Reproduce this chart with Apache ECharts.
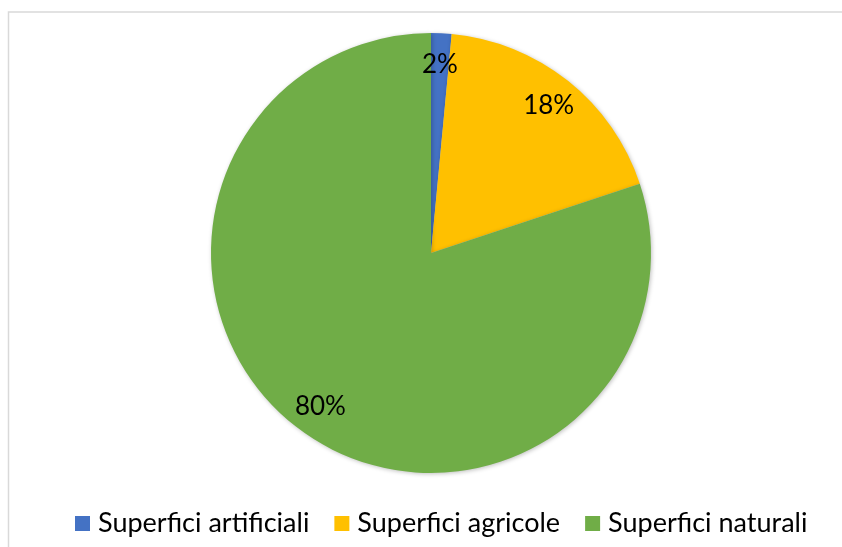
<!DOCTYPE html>
<html>
<head>
<meta charset="utf-8">
<script src="https://cdn.jsdelivr.net/npm/echarts@6/dist/echarts.min.js"></script>
<style>html,body{margin:0;padding:0;background:#fff}#c{width:842px;height:547px}</style>
</head>
<body>
<div id="c"></div>
<script>
const categories = ['Superfici artificiali', 'Superfici agricole', 'Superfici naturali'];
const values = [1.5, 18.4, 80.1];
const colors = ['#4472C4', '#FFC000', '#70AD47'];

const chart = echarts.init(document.getElementById('c'));
const data = categories.map((n, i) => ({ name: n, value: values[i], itemStyle: { color: colors[i] } }));
const font = 'Lato, "Open Sans", sans-serif';
chart.setOption({
  animation: false,
  graphic: [{
    type: 'rect', shape: { x: 8.5, y: 12, width: 900, height: 600 },
    style: { fill: 'none', stroke: '#d9d9d9', lineWidth: 1.5 }, silent: true
  }],
  legend: {
    data: categories, top: 505, left: 70,
    itemWidth: 15, itemHeight: 15, itemGap: 25, icon: 'rect',
    textStyle: { fontFamily: font, fontSize: 27, color: '#000', padding: [0, 0, 0, 3] }
  },
  series: [{
    type: 'pie', center: [431, 253], radius: [0, 220], startAngle: 90, clockwise: true,
    label: { show: false }, labelLine: { show: false },
    itemStyle: { shadowBlur: 4, shadowColor: 'rgba(0,0,0,0.25)', shadowOffsetX: 1, shadowOffsetY: 1 },
    emphasis: { disabled: true },
    data: data
  }, {
    type: 'pie', center: [431, 253], radius: [152, 220], startAngle: 90, clockwise: true, silent: true,
    itemStyle: { color: 'rgba(0,0,0,0)' },
    label: { show: true, position: 'inside', fontFamily: font, fontSize: 26, color: '#000',
      formatter: p => Math.round(p.percent) + '%' },
    labelLine: { show: false },
    emphasis: { disabled: true },
    data: categories.map((n, i) => ({ name: n, value: values[i] }))
  }]
});
</script>
</body>
</html>
